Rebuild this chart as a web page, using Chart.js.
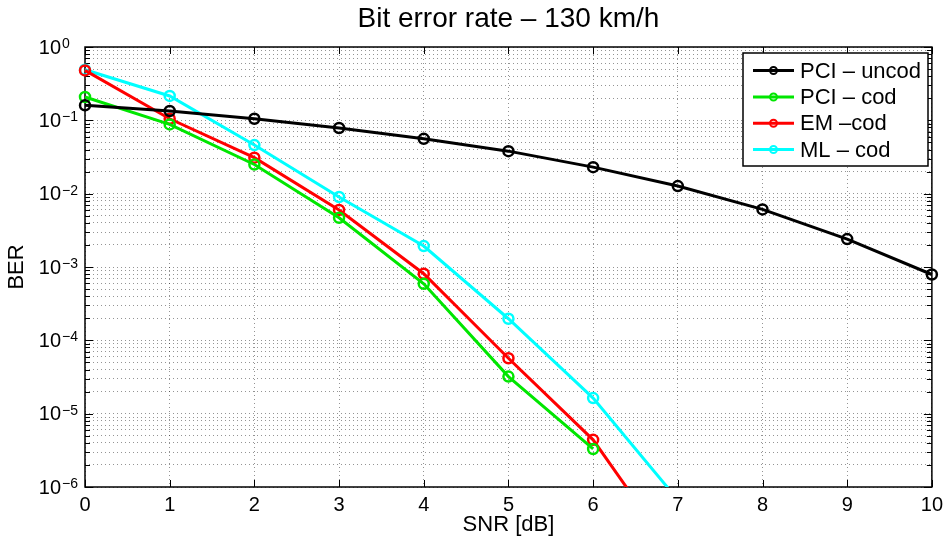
<!DOCTYPE html>
<html>
<head>
<meta charset="utf-8">
<script src="https://cdn.jsdelivr.net/npm/chart.js@4/dist/chart.umd.min.js"></script>
<style>
html,body{margin:0;padding:0;background:#fff;}
#wrap{width:949px;height:542px;}
</style>
</head>
<body>
<div id="wrap"><canvas id="c" width="949" height="542"></canvas></div>
<script>
// ---- data ----
const snr = [0, 1, 2, 3, 4, 5, 6, 7, 8, 9, 10];
const pciUncod = [0.16, 0.134, 0.105, 0.0785, 0.056, 0.038, 0.023, 0.0127, 0.0061, 0.0024, 0.00079];
const pciCod = [0.208, 0.088, 0.025, 0.0047, 0.00059, 0.000032, 0.0000033];
const emCod = [0.48, 0.105, 0.031, 0.006, 0.00081, 0.000057, 0.0000044, 0.0000001];
const mlCod = [0.49, 0.215, 0.046, 0.009, 0.00193, 0.000197, 0.0000163, 0.00000067];
const seriesNames = ['PCI \u2013 uncod', 'PCI \u2013 cod', 'EM \u2013cod', 'ML \u2013 cod'];
const seriesColors = ['#000000', '#00e600', '#ff0000', '#00ffff'];
const yExponents = [0, -1, -2, -3, -4, -5, -6];
const titleText = 'Bit error rate \u2013 130 km/h';
const xTitle = 'SNR [dB]';
const yTitle = 'BER';

const FONT = "'Liberation Sans', Arial, Helvetica, sans-serif";

function pts(vals) { return vals.map((v, i) => ({x: snr[i], y: v})); }
const allSeries = [pciUncod, pciCod, emCod, mlCod];

const datasets = allSeries.map((vals, i) => ({
  label: seriesNames[i],
  data: pts(vals),
  borderColor: seriesColors[i],
  backgroundColor: seriesColors[i],
  borderWidth: 3,
  pointRadius: 5,
  pointBorderWidth: 2.5,
  pointBackgroundColor: 'rgba(0,0,0,0)',
  pointBorderColor: seriesColors[i],
  tension: 0,
  clip: {left: 10, right: 10, top: 10, bottom: 0}
}));

const decorPlugin = {
  id: 'decor',
  beforeDatasetsDraw(chart) {
    const ctx = chart.ctx, a = chart.chartArea;
    const xs = chart.scales.x, ys = chart.scales.y;
    ctx.save();
    ctx.strokeStyle = '#000';
    ctx.lineWidth = 1;
    // x ticks inward
    for (let v = 0; v <= 10; v++) {
      const px = Math.round(xs.getPixelForValue(v)) + 0.5;
      ctx.beginPath();
      ctx.moveTo(px, a.bottom); ctx.lineTo(px, a.bottom - 7);
      ctx.moveTo(px, a.top); ctx.lineTo(px, a.top + 7);
      ctx.stroke();
    }
    // y ticks inward
    for (let e = -6; e <= 0; e++) {
      for (let m = 1; m <= 9; m++) {
        if (e === 0 && m > 1) break;
        const v = m * Math.pow(10, e);
        const py = Math.round(ys.getPixelForValue(v)) + 0.5;
        const len = m === 1 ? 8 : 5;
        ctx.beginPath();
        ctx.moveTo(a.left, py); ctx.lineTo(a.left + len, py);
        ctx.moveTo(a.right, py); ctx.lineTo(a.right - len, py);
        ctx.stroke();
      }
    }
    // frame
    ctx.lineWidth = 1.5;
    ctx.strokeRect(a.left, a.top, a.right - a.left, a.bottom - a.top);
    ctx.restore();
  },
  afterDraw(chart) {
    const ctx = chart.ctx, a = chart.chartArea;
    const ys = chart.scales.y;
    ctx.save();
    ctx.fillStyle = '#000';
    // title
    ctx.font = '28px ' + FONT;
    ctx.textAlign = 'center';
    ctx.textBaseline = 'middle';
    ctx.fillText(titleText, (a.left + a.right) / 2, 19);
    // y tick labels 10^k
    yExponents.forEach(e => {
      const py = ys.getPixelForValue(Math.pow(10, e));
      ctx.font = '20px ' + FONT;
      ctx.textAlign = 'right';
      ctx.textBaseline = 'middle';
      ctx.fillText('10', 61, py + 1);
      ctx.font = '14px ' + FONT;
      ctx.textAlign = 'left';
      ctx.textBaseline = 'alphabetic';
      ctx.fillText(e === 0 ? '0' : '\u2212' + Math.abs(e), 62, py + 1);
    });
    // legend
    const lx = 743, ly = 53, lw = 185, lh = 113;
    ctx.fillStyle = '#fff';
    ctx.fillRect(lx, ly, lw, lh);
    ctx.strokeStyle = '#000';
    ctx.lineWidth = 1.5;
    ctx.strokeRect(lx, ly, lw, lh);
    const rows = [70.5, 97, 123.3, 149.5];
    seriesNames.forEach((name, i) => {
      const y = rows[i];
      ctx.strokeStyle = seriesColors[i];
      ctx.lineWidth = 3;
      ctx.beginPath();
      ctx.moveTo(753, y); ctx.lineTo(794, y);
      ctx.stroke();
      ctx.lineWidth = 2;
      ctx.beginPath();
      ctx.arc(773.5, y, 3.5, 0, Math.PI * 2);
      ctx.stroke();
      ctx.fillStyle = '#000';
      ctx.font = '22px ' + FONT;
      ctx.textAlign = 'left';
      ctx.textBaseline = 'middle';
      ctx.fillText(name, 800, y + 1);
    });
    ctx.restore();
  }
};

const gridStyle = {
  color: 'rgba(0,0,0,0.42)',
  lineWidth: 1,
  drawTicks: false
};

new Chart(document.getElementById('c'), {
  type: 'line',
  data: {datasets},
  options: {
    responsive: false,
    animation: false,
    events: [],
    layout: {padding: {top: 47, right: 14, left: 0, bottom: 0}},
    plugins: {legend: {display: false}, tooltip: {enabled: false}, title: {display: false}},
    scales: {
      x: {
        type: 'linear',
        min: 0, max: 10,
        ticks: {stepSize: 1, color: '#000', font: {family: FONT, size: 20}, padding: 6, maxRotation: 0, autoSkip: false},
        grid: Object.assign({}, gridStyle),
        border: {display: false, dash: [1, 3]},
        title: {display: true, text: xTitle, color: '#000', font: {family: FONT, size: 22}, padding: {top: 0, bottom: 4}},
        afterFit(s) { s.height = 55; }
      },
      y: {
        type: 'logarithmic',
        min: 1e-6, max: 1,
        afterBuildTicks(s) {
          const t = [];
          for (let e = -6; e <= 0; e++) {
            for (let m = 1; m <= 9; m++) {
              if (e === 0 && m > 1) break;
              t.push({value: m * Math.pow(10, e)});
            }
          }
          s.ticks = t;
        },
        ticks: {display: false},
        grid: Object.assign({}, gridStyle),
        border: {display: false, dash: [1, 3]},
        title: {display: true, text: yTitle, color: '#000', font: {family: FONT, size: 22}, padding: {top: 4, bottom: 0}},
        afterFit(s) { s.width = 85; }
      }
    }
  },
  plugins: [decorPlugin]
});
</script>
</body>
</html>
